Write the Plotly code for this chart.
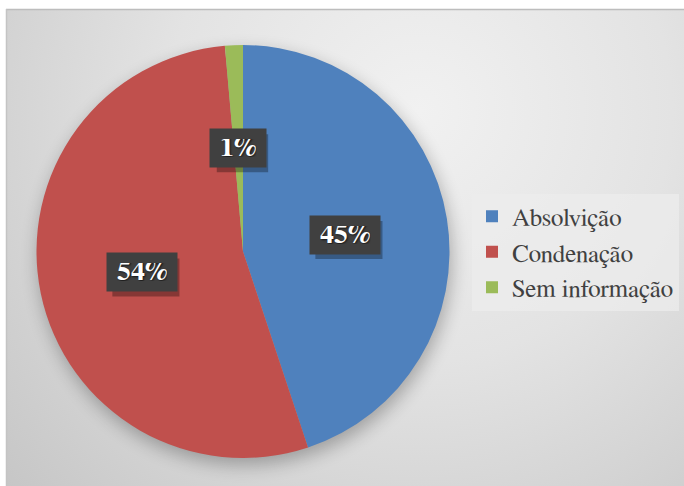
import base64
import math
import plotly.graph_objects as go

# Distribution of case outcomes (share of total, in %)
categories = ["Absolvição", "Condenação", "Sem informação"]
shares = [44.9, 53.7, 1.4]
colors = ["#4F81BD", "#C0504D", "#9BBB59"]

W, H = 684, 486
SERIF = "FreeSerif"

# Pie placement in pixels (converted to paper domain below)
pie_cx, pie_cy, pie_r = 243, 251.5, 206.5
dom_x = [(pie_cx - pie_r) / W, (pie_cx + pie_r) / W]
dom_y = [(H - pie_cy - pie_r) / H, (H - pie_cy + pie_r) / H]

# Chart-area background: soft grey radial gradient, frame lines and pie shadow
bg_svg = f"""<svg xmlns='http://www.w3.org/2000/svg' width='{W}' height='{H}' viewBox='0 0 {W} {H}'>
<defs>
<radialGradient id='g' cx='420' cy='110' r='560' gradientUnits='userSpaceOnUse'>
<stop offset='0' stop-color='#f1f1f1'/>
<stop offset='0.45' stop-color='#e3e3e3'/>
<stop offset='1' stop-color='#c6c6c6'/>
</radialGradient>
<filter id='b' x='-30%' y='-30%' width='160%' height='160%'><feGaussianBlur stdDeviation='9'/></filter>
</defs>
<rect x='0' y='0' width='{W}' height='{H}' fill='#ffffff'/>
<rect x='6' y='9' width='{W - 6}' height='{H - 9}' fill='url(#g)'/>
<line x1='6' y1='9.5' x2='{W}' y2='9.5' stroke='#bdbdbd' stroke-width='1.5'/>
<line x1='6.5' y1='9' x2='6.5' y2='{H}' stroke='#c4c4c4' stroke-width='1.5'/>
<circle cx='{pie_cx + 2}' cy='{pie_cy + 7}' r='{pie_r}' fill='#000000' opacity='0.28' filter='url(#b)'/>
</svg>"""
bg_uri = "data:image/svg+xml;base64," + base64.b64encode(bg_svg.encode("utf-8")).decode("ascii")

fig = go.Figure(
    go.Pie(
        labels=categories,
        values=shares,
        marker=dict(colors=colors, line=dict(width=0)),
        sort=False,
        direction="clockwise",
        rotation=0,
        textinfo="none",
        hoverinfo="label+percent",
        domain=dict(x=dom_x, y=dom_y),
    )
)

# Percentage badges placed at half the radius along each slice's mid-angle
total = sum(shares)
start = 0.0
for share in shares:
    frac = share / total
    mid = (start + frac / 2) * 2 * math.pi
    start += frac
    px = pie_cx + 0.5 * pie_r * math.sin(mid)
    py = pie_cy - 0.5 * pie_r * math.cos(mid)
    label = f"{frac * 100:.0f}%"
    xa, ya = px / W, 1 - py / H
    half_w = (20 + 15.7 * len(label)) / 2
    # soft drop shadow behind the badge
    fig.add_shape(
        type="rect", xref="paper", yref="paper",
        xsizemode="pixel", ysizemode="pixel", xanchor=xa, yanchor=ya,
        x0=-half_w + 4, x1=half_w + 4, y0=-19 - 5, y1=19 - 5,
        fillcolor="rgba(0,0,0,0.30)", line=dict(width=0), layer="above",
    )
    fig.add_annotation(
        x=xa, y=ya, xref="paper", yref="paper",
        xanchor="center", yanchor="middle",
        text=f"<b>{label}</b>", showarrow=False,
        bgcolor="#404040", borderpad=10, height=18,
        font=dict(family=SERIF, size=28, color="#ffffff", weight="bold",
                  shadow="1px 1px 2px rgba(0,0,0,0.7)"),
    )

fig.update_layout(
    width=W, height=H,
    margin=dict(l=0, r=0, t=0, b=0),
    paper_bgcolor="#ffffff",
    images=[dict(source=bg_uri, xref="paper", yref="paper", x=0, y=1,
                 sizex=1, sizey=1, sizing="stretch", xanchor="left",
                 yanchor="top", layer="below")],
    showlegend=True,
    legend=dict(
        x=472 / W, y=1 - 252 / H, xanchor="left", yanchor="middle",
        bgcolor="rgba(236,236,236,0.75)",
        font=dict(family=SERIF, size=25, color="#404040"),
        itemclick=False, itemdoubleclick=False,
    ),
)

fig.write_html("out.html")
